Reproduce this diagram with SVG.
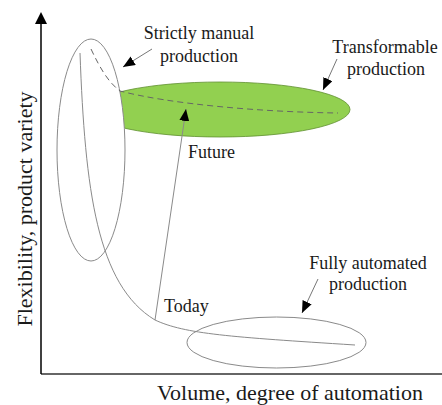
<svg xmlns="http://www.w3.org/2000/svg" width="442" height="405" viewBox="0 0 442 405">
<style>
text{font-family:"Liberation Serif","Times New Roman",serif;fill:#1a1a1a}
.lbl{font-size:18px;text-anchor:middle}
.ax{font-size:22px}
.thin{fill:none;stroke:#8a8a8a;stroke-width:1}
.ptr{stroke:#777;stroke-width:1;fill:none}
</style>
<defs>
<marker id="ah" viewBox="0 0 12 10" refX="12" refY="5" markerWidth="12" markerHeight="10" markerUnits="userSpaceOnUse" orient="auto">
<path d="M0,0 L12,5 L0,10 Z" fill="#000"/>
</marker>
</defs>
<g id="axes">
<line x1="41" y1="374" x2="442" y2="374" stroke="#333" stroke-width="1.5"/>
<line x1="41" y1="374" x2="41" y2="24" stroke="#000" stroke-width="1.5"/>
<path d="M41,12 L47,24 L35,24 Z" fill="#000"/>
<text class="ax" x="157" y="400">Volume, degree of automation</text>
<text class="ax" text-anchor="middle" transform="translate(32,209) rotate(-90)">Flexibility, product variety</text>
</g>
<g id="transformable">
<ellipse cx="220" cy="109.5" rx="130" ry="27.5" fill="#92D050" stroke="#5f8f30" stroke-width="0.8"/>
</g>
<g id="manual">
<ellipse cx="91" cy="150" rx="34" ry="111" fill="#fff" stroke="#8a8a8a" stroke-width="1"/>
</g>
<g id="automated">
<ellipse cx="276.5" cy="342.5" rx="89.5" ry="25.5" fill="none" stroke="#8a8a8a" stroke-width="1"/>
</g>
<g id="connectors">
<path class="thin" d="M80,53 C85,190 97,285 155,320 C185,334 230,337 355,345"/>
<path d="M91,49 C100,68 108,82 120,91 C170,104 260,112 338,113" fill="none" stroke="#666" stroke-width="1" stroke-dasharray="6,4"/>
<line class="thin" x1="155" y1="320" x2="186" y2="109" marker-end="url(#ah)"/>
<line class="ptr" x1="152" y1="49" x2="123" y2="67" marker-end="url(#ah)"/>
<line class="ptr" x1="337" y1="59" x2="323" y2="90" marker-end="url(#ah)"/>
<line class="ptr" x1="318" y1="279" x2="302" y2="313" marker-end="url(#ah)"/>
</g>
<g id="labels">
<text class="lbl" x="199" y="39">Strictly manual</text>
<text class="lbl" x="199" y="62">production</text>
<text class="lbl" x="385" y="53">Transformable</text>
<text class="lbl" x="386" y="75">production</text>
<text class="lbl" x="368" y="269">Fully automated</text>
<text class="lbl" x="368" y="290">production</text>
<text x="188" y="158" font-size="18">Future</text>
<text x="164" y="312" font-size="18">Today</text>
</g>
</svg>
